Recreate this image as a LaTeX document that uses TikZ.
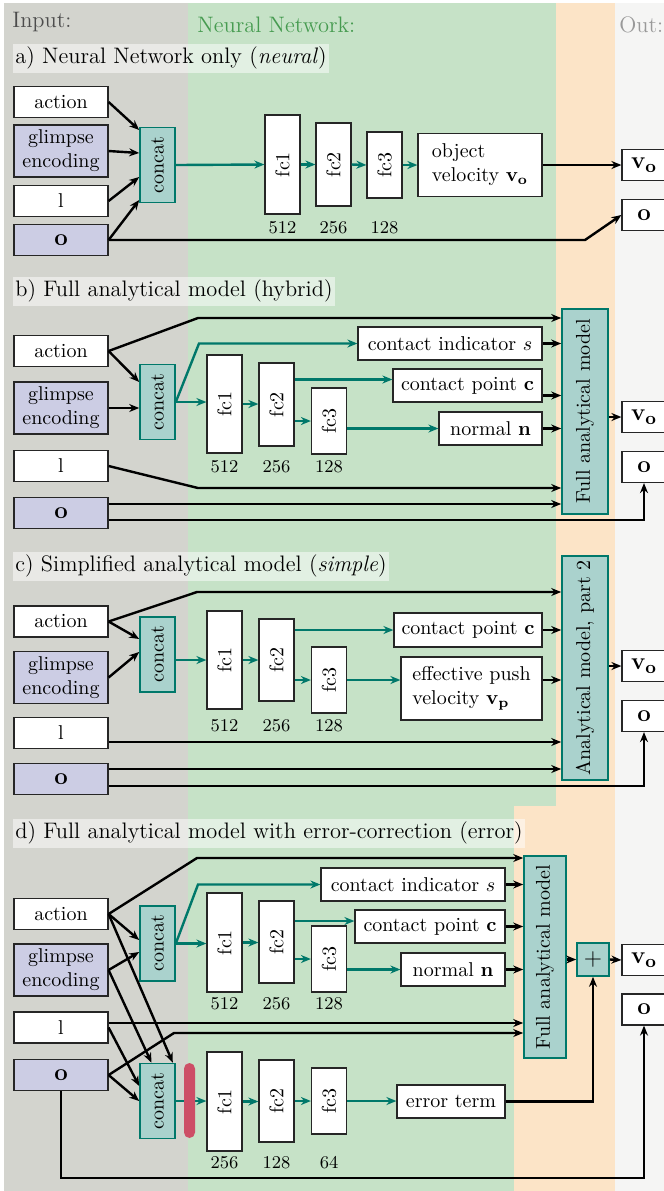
\documentclass[tikz,border=0pt]{standalone}
\usepackage{graphicx}
\usetikzlibrary{arrows.meta}

\definecolor{bgInput}{RGB}{211,212,206}
\definecolor{bgNet}{RGB}{198,226,199}
\definecolor{bgAna}{RGB}{252,228,199}
\definecolor{bgOut}{RGB}{245,245,244}
\definecolor{lavender}{RGB}{204,205,228}
\definecolor{tealFill}{RGB}{170,210,205}
\definecolor{tealLine}{RGB}{0,120,106}
\definecolor{barRed}{RGB}{205,78,102}
\definecolor{netText}{RGB}{70,155,80}

\begin{document}
\begin{tikzpicture}[x=0.5pt,y=-0.5pt,
    box/.style={draw=black!85,line width=0.6pt,fill=white,inner sep=0pt,minimum width=47pt,minimum height=15.5pt},
    inbox/.style={box,fill=lavender},
    glimpse/.style={inbox,minimum height=26pt,align=center},
    tealbox/.style={draw=tealLine,line width=0.8pt,fill=tealFill,inner sep=0pt},
    concat/.style={tealbox,minimum width=17.5pt,minimum height=37.5pt},
    fc/.style={box,minimum width=17.5pt},
    outbox/.style={box,minimum width=22pt,font=\fontsize{13}{15}\selectfont},
    bigsym/.style={font=\fontsize{13}{15}\selectfont},
    band/.style={fill=white,fill opacity=0.5,text opacity=1,inner xsep=1pt,inner ysep=0pt,minimum height=14.5pt,anchor=west,font=\fontsize{11.2}{13}\selectfont},
    title/.style={anchor=west,inner sep=0pt,font=\fontsize{11.2}{13}\selectfont},
    num/.style={inner sep=0pt,font=\small},
    arr/.style={line width=1.2pt,-{Stealth[length=5pt,width=4pt]}},
    nnarr/.style={arr,draw=tealLine}]

    % Background columns
    \useasboundingbox (0,0) rectangle (664,1191);
    \fill[bgInput] (4,3) rectangle (188,1191);
    \fill[bgNet] (188,3) rectangle (556,806);
    \fill[bgNet] (188,806) rectangle (514,1191);
    \fill[bgAna] (556,3) rectangle (615,806);
    \fill[bgAna] (514,806) rectangle (615,1191);
    \fill[bgOut] (615,3) rectangle (664,1191);

    % Column titles
    \node[title,text=black!70] (tIn) at (12,22) {Input:};
    \node[title,text=netText] (tNet) at (197,25) {Neural Network:};
    \node[title,text=black!40] (tOut) at (619,25) {Out:};

    % ---------------- a) neural ----------------
    \node[band] (aLab) at (13,58) {a) Neural Network only (\textit{neural})};
    \node[box] (aAct) at (61,102) {action};
    \node[glimpse] (aGl) at (61,151) {glimpse\\encoding};
    \node[box] (aL) at (61,201) {l};
    \node[inbox,bigsym] (aO) at (61,240) {$\mathbf{o}$};
    \node[concat] (aCc) at (157.5,165) {\rotatebox{90}{concat}};
    \node[fc,minimum height=49.5pt] (aFc1) at (282.5,164.5) {\rotatebox{90}{fc1}};
    \node[fc,minimum height=41.5pt] (aFc2) at (333.5,164.5) {\rotatebox{90}{fc2}};
    \node[fc,minimum height=33pt] (aFc3) at (384.5,165) {\rotatebox{90}{fc3}};
    \node[num] (aN1) at (282.5,228) {512};
    \node[num] (aN2) at (333.5,228) {256};
    \node[num] (aN3) at (384.5,228) {128};
    \node[box,minimum width=62pt,minimum height=31.5pt,align=left] (aOv) at (480,165) {object\\velocity $\mathbf{v_o}$};
    \node[outbox] (aVo) at (644,165) {$\mathbf{v_o}$};
    \node[outbox] (aOo) at (644,215) {$\mathbf{o}$};
    \coordinate (aK) at (585,240);

    \draw[arr] (aAct.east) -- ([yshift=17.5pt]aCc.west);
    \draw[arr] (aGl.east) -- ([yshift=6pt]aCc.west);
    \draw[arr] (aL.east) -- ([yshift=-6pt]aCc.west);
    \draw[arr] (aO.east) -- ([yshift=-17.5pt]aCc.west);
    \draw[nnarr] (aCc.east) -- (aFc1.west);
    \draw[nnarr] (aFc1.east) -- (aFc2.west);
    \draw[nnarr] (aFc2.east) -- (aFc3.west);
    \draw[nnarr] (aFc3.east) -- (aOv.west);
    \draw[arr] (aOv.east) -- (aVo.west);
    \draw[arr] (aO.east) -- (aK) -- (aOo.west);

    % ---------------- b) hybrid ----------------
    \node[band] (bLab) at (13,291) {b) Full analytical model (hybrid)};
    \node[box] (bAct) at (61,351) {action};
    \node[glimpse] (bGl) at (61,408) {glimpse\\encoding};
    \node[box] (bL) at (61,466) {l};
    \node[inbox,bigsym] (bO) at (61,513) {$\mathbf{o}$};
    \node[concat] (bCc) at (157.5,402) {\rotatebox{90}{concat}};
    \node[fc,minimum height=49pt] (bFc1) at (224.5,404) {\rotatebox{90}{fc1}};
    \node[fc,minimum height=41.5pt] (bFc2) at (276.5,404.5) {\rotatebox{90}{fc2}};
    \node[fc,minimum height=33pt] (bFc3) at (329,421) {\rotatebox{90}{fc3}};
    \node[num] (bN1) at (224.5,467) {512};
    \node[num] (bN2) at (276.5,467) {256};
    \node[num] (bN3) at (329,467) {128};
    \node[box,minimum width=92pt,minimum height=16.5pt] (bCi) at (450,343.5) {contact indicator $s$};
    \node[box,minimum width=74.5pt,minimum height=16.5pt] (bCp) at (467.5,385.5) {contact point $\mathbf{c}$};
    \node[box,minimum width=51.5pt,minimum height=16.5pt] (bNn) at (490.5,428.5) {normal $\mathbf{n}$};
    \node[tealbox,minimum width=23pt,minimum height=102.5pt] (bFam) at (585,411.5) {\rotatebox{90}{Full analytical model}};
    \node[outbox] (bVo) at (644,417) {$\mathbf{v_o}$};
    \node[outbox] (bOo) at (644,467) {$\mathbf{o}$};
    \coordinate (bK1) at (198,318);
    \coordinate (bK2) at (199,343.5);
    \coordinate (bK3) at (198,488);
    \coordinate (bP1) at ([yshift=12.5pt]bFc2.east);
    \coordinate (bP2) at ([yshift=-5pt]bCp.east);
    \coordinate (bP3) at ([yshift=4.5pt]bO.east);
    \coordinate (bP4) at ([yshift=-3.5pt]bO.east);

    \draw[arr] (bAct.east) -- (bK1) -- (bK1 -| bFam.west);
    \draw[arr] (bAct.east) -- ([yshift=10pt]bCc.west);
    \draw[arr] (bGl.east) -- (bGl.east -| bCc.west);
    \draw[nnarr] (bCc.east) -- (bK2) -- (bCi.west);
    \draw[nnarr] (bCc.east) -- (bCc.east -| bFc1.west);
    \draw[nnarr] (bFc1.east) -- (bFc1.east -| bFc2.west);
    \draw[nnarr] (bP1) -- (bP1 -| bCp.west);
    \draw[nnarr] (bFc3.west -| bFc2.east) -- (bFc3.west);
    \draw[nnarr] (bNn.west -| bFc3.east) -- (bNn.west);
    \draw[arr] (bCi.east) -- (bCi.east -| bFam.west);
    \draw[arr] (bP2) -- (bP2 -| bFam.west);
    \draw[arr] (bNn.east) -- (bNn.east -| bFam.west);
    \draw[arr] (bL.east) -- (bK3) -- (bK3 -| bFam.west);
    \draw[arr] (bP3) -- (bP3 -| bFam.west);
    \draw[arr] (bP4) -| (bOo.south);
    \draw[arr] (bVo.west -| bFam.east) -- (bVo.west);

    % ---------------- c) simple ----------------
    \node[band] (cLab) at (13,566) {c) Simplified analytical model (\textit{simple})};
    \node[box] (cAct) at (61,621.5) {action};
    \node[glimpse] (cGl) at (61,677.5) {glimpse\\encoding};
    \node[box] (cL) at (61,733) {l};
    \node[inbox,bigsym] (cO) at (61,779) {$\mathbf{o}$};
    \node[concat] (cCc) at (157.5,654.5) {\rotatebox{90}{concat}};
    \node[fc,minimum height=49pt] (cFc1) at (224.5,660) {\rotatebox{90}{fc1}};
    \node[fc,minimum height=41pt] (cFc2) at (276.5,660) {\rotatebox{90}{fc2}};
    \node[fc,minimum height=33pt] (cFc3) at (329,680) {\rotatebox{90}{fc3}};
    \node[num] (cN1) at (224.5,726) {512};
    \node[num] (cN2) at (276.5,726) {256};
    \node[num] (cN3) at (329,726) {128};
    \node[box,minimum width=74pt,minimum height=17pt] (cCp) at (468,630) {contact point $\mathbf{c}$};
    \node[box,minimum width=70.5pt,minimum height=31.5pt,align=left] (cEv) at (471.5,688.5) {effective push\\velocity $\mathbf{v_p}$};
    \node[tealbox,minimum width=23pt,minimum height=112pt] (cAm) at (585,668) {\rotatebox{90}{Analytical model, part 2}};
    \node[outbox] (cVo) at (644,666) {$\mathbf{v_o}$};
    \node[outbox] (cOo) at (644,716) {$\mathbf{o}$};
    \coordinate (cK1) at (197,592);
    \coordinate (cP1) at ([yshift=4.25pt]cEv.east);
    \coordinate (cP2) at ([yshift=-4.5pt]cL.east);
    \coordinate (cP3) at ([yshift=5pt]cO.east);
    \coordinate (cP4) at ([yshift=-3.5pt]cO.east);

    \draw[arr] (cAct.east) -- (cK1) -- (cK1 -| cAm.west);
    \draw[arr] (cAct.east) -- ([yshift=7.75pt]cCc.west);
    \draw[arr] (cGl.east) -- ([yshift=1.25pt]cCc.west);
    \draw[nnarr] (cFc1.west -| cCc.east) -- (cFc1.west);
    \draw[nnarr] (cFc1.east) -- (cFc2.west);
    \draw[nnarr] (cCp.west -| cFc2.east) -- (cCp.west);
    \draw[nnarr] (cFc3.west -| cFc2.east) -- (cFc3.west);
    \draw[nnarr] (cFc3.east) -- (cFc3.east -| cEv.west);
    \draw[arr] (cCp.east) -- (cCp.east -| cAm.west);
    \draw[arr] (cP1) -- (cP1 -| cAm.west);
    \draw[arr] (cP2) -- (cP2 -| cAm.west);
    \draw[arr] (cP3) -- (cP3 -| cAm.west);
    \draw[arr] (cP4) -| (cOo.south);
    \draw[arr] (cAm.east |- cVo.west) -- (cVo.west);

    % ---------------- d) error ----------------
    \node[band] (dLab) at (13,833) {d) Full analytical model with error-correction (error)};
    \node[box] (dAct) at (61,914) {action};
    \node[glimpse] (dGl) at (61,970) {glimpse\\encoding};
    \node[box] (dL) at (61,1027.5) {l};
    \node[inbox,bigsym] (dO) at (61,1075) {$\mathbf{o}$};
    \node[concat] (dCc1) at (157.5,943.5) {\rotatebox{90}{concat}};
    \node[concat] (dCc2) at (157.5,1101) {\rotatebox{90}{concat}};
    \node[fc,minimum height=49.5pt] (dFc1) at (224.5,942.5) {\rotatebox{90}{fc1}};
    \node[fc,minimum height=41pt] (dFc2) at (276.5,942) {\rotatebox{90}{fc2}};
    \node[fc,minimum height=33pt] (dFc3) at (329,959) {\rotatebox{90}{fc3}};
    \node[num] (dN1) at (224.5,1004) {512};
    \node[num] (dN2) at (276.5,1004) {256};
    \node[num] (dN3) at (329,1004) {128};
    \node[fc,minimum height=49.5pt] (dFc4) at (224.5,1101.5) {\rotatebox{90}{fc1}};
    \node[fc,minimum height=41pt] (dFc5) at (276.5,1101) {\rotatebox{90}{fc2}};
    \node[fc,minimum height=33pt] (dFc6) at (329,1101) {\rotatebox{90}{fc3}};
    \node[num] (dN4) at (224.5,1163) {256};
    \node[num] (dN5) at (276.5,1163) {128};
    \node[num] (dN6) at (329,1163) {64};
    \node[box,minimum width=92pt,minimum height=16.5pt] (dCi) at (413,884.5) {contact indicator $s$};
    \node[box,minimum width=75pt,minimum height=16.5pt] (dCp) at (430,926.5) {contact point $\mathbf{c}$};
    \node[box,minimum width=52pt,minimum height=16.5pt] (dNn) at (453,969.5) {normal $\mathbf{n}$};
    \node[box,minimum width=54pt,minimum height=16.5pt] (dEt) at (451,1101.5) {error term};
    \node[tealbox,minimum width=21pt,minimum height=101pt] (dFam) at (545,957) {\rotatebox{90}{Full analytical model}};
    \node[tealbox,bigsym,minimum width=16pt,minimum height=16.5pt] (dPl) at (593,959.5) {$+$};
    \node[outbox] (dVo) at (644,960) {$\mathbf{v_o}$};
    \node[outbox] (dOo) at (644,1009.5) {$\mathbf{o}$};
    \coordinate (dK1) at (197,858);
    \coordinate (dK2) at (198,884.5);
    \coordinate (dK3) at (174,1033);
    \coordinate (dK4) at (61,1178);
    \coordinate (dP1) at ([yshift=2.25pt]dL.east);
    \coordinate (dP2) at ([yshift=10.5pt]dFc2.east);

    \draw[arr] (dAct.east) -- (dK1) -- (dK1 -| dFam.west);
    \draw[arr] (dAct.east) -- ([yshift=1.75pt]dCc1.west);
    \draw[arr] (dGl.east) -- ([yshift=-4.25pt]dCc1.west);
    \draw[arr] (dAct.east) -- ([xshift=-1.5pt]dCc2.north east);
    \draw[arr] (dGl.east) -- ([xshift=-3pt]dCc2.north);
    \draw[arr] (dL.east) -- ([yshift=7.5pt]dCc2.west);
    \draw[arr] (dO.east) -- (dCc2.west);
    \draw[arr] (dP1) -- (dP1 -| dFam.west);
    \draw[arr] (dO.east) -- (dK3) -- (dK3 -| dFam.west);
    \draw[nnarr] (dCc1.east) -- (dK2) -- (dCi.west);
    \draw[nnarr] (dCc1.east) -- (dCc1.east -| dFc1.west);
    \draw[nnarr] (dFc1.east) -- (dFc1.east -| dFc2.west);
    \draw[nnarr] (dP2) -- (dP2 -| dCp.west);
    \draw[nnarr] (dFc3.west -| dFc2.east) -- (dFc3.west);
    \draw[nnarr] (dNn.west -| dFc3.east) -- (dNn.west);
    \draw[arr] (dCi.east) -- (dCi.east -| dFam.west);
    \draw[arr] (dCp.east) -- (dCp.east -| dFam.west);
    \draw[arr] (dNn.east) -- (dNn.east -| dFam.west);
    \draw[arr] (dPl.west -| dFam.east) -- (dPl.west);
    \draw[arr] (dPl.east) -- (dVo.west);
    \draw[nnarr] (dCc2.east) -- (dCc2.east -| dFc4.west);
    \draw[nnarr] (dFc4.east) -- (dFc4.east -| dFc5.west);
    \draw[nnarr] (dFc5.east) -- (dFc5.east -| dFc6.west);
    \draw[nnarr] (dFc6.east) -- (dFc6.east -| dEt.west);
    \draw[arr] (dEt.east) -| (dPl.south);
    \draw[arr] (dO.south) -- (dK4) -| (dOo.south);
    % dropout bar
    \fill[barRed,rounded corners=2.75pt] (184,1063) rectangle (195,1138);

\end{tikzpicture}
\end{document}
